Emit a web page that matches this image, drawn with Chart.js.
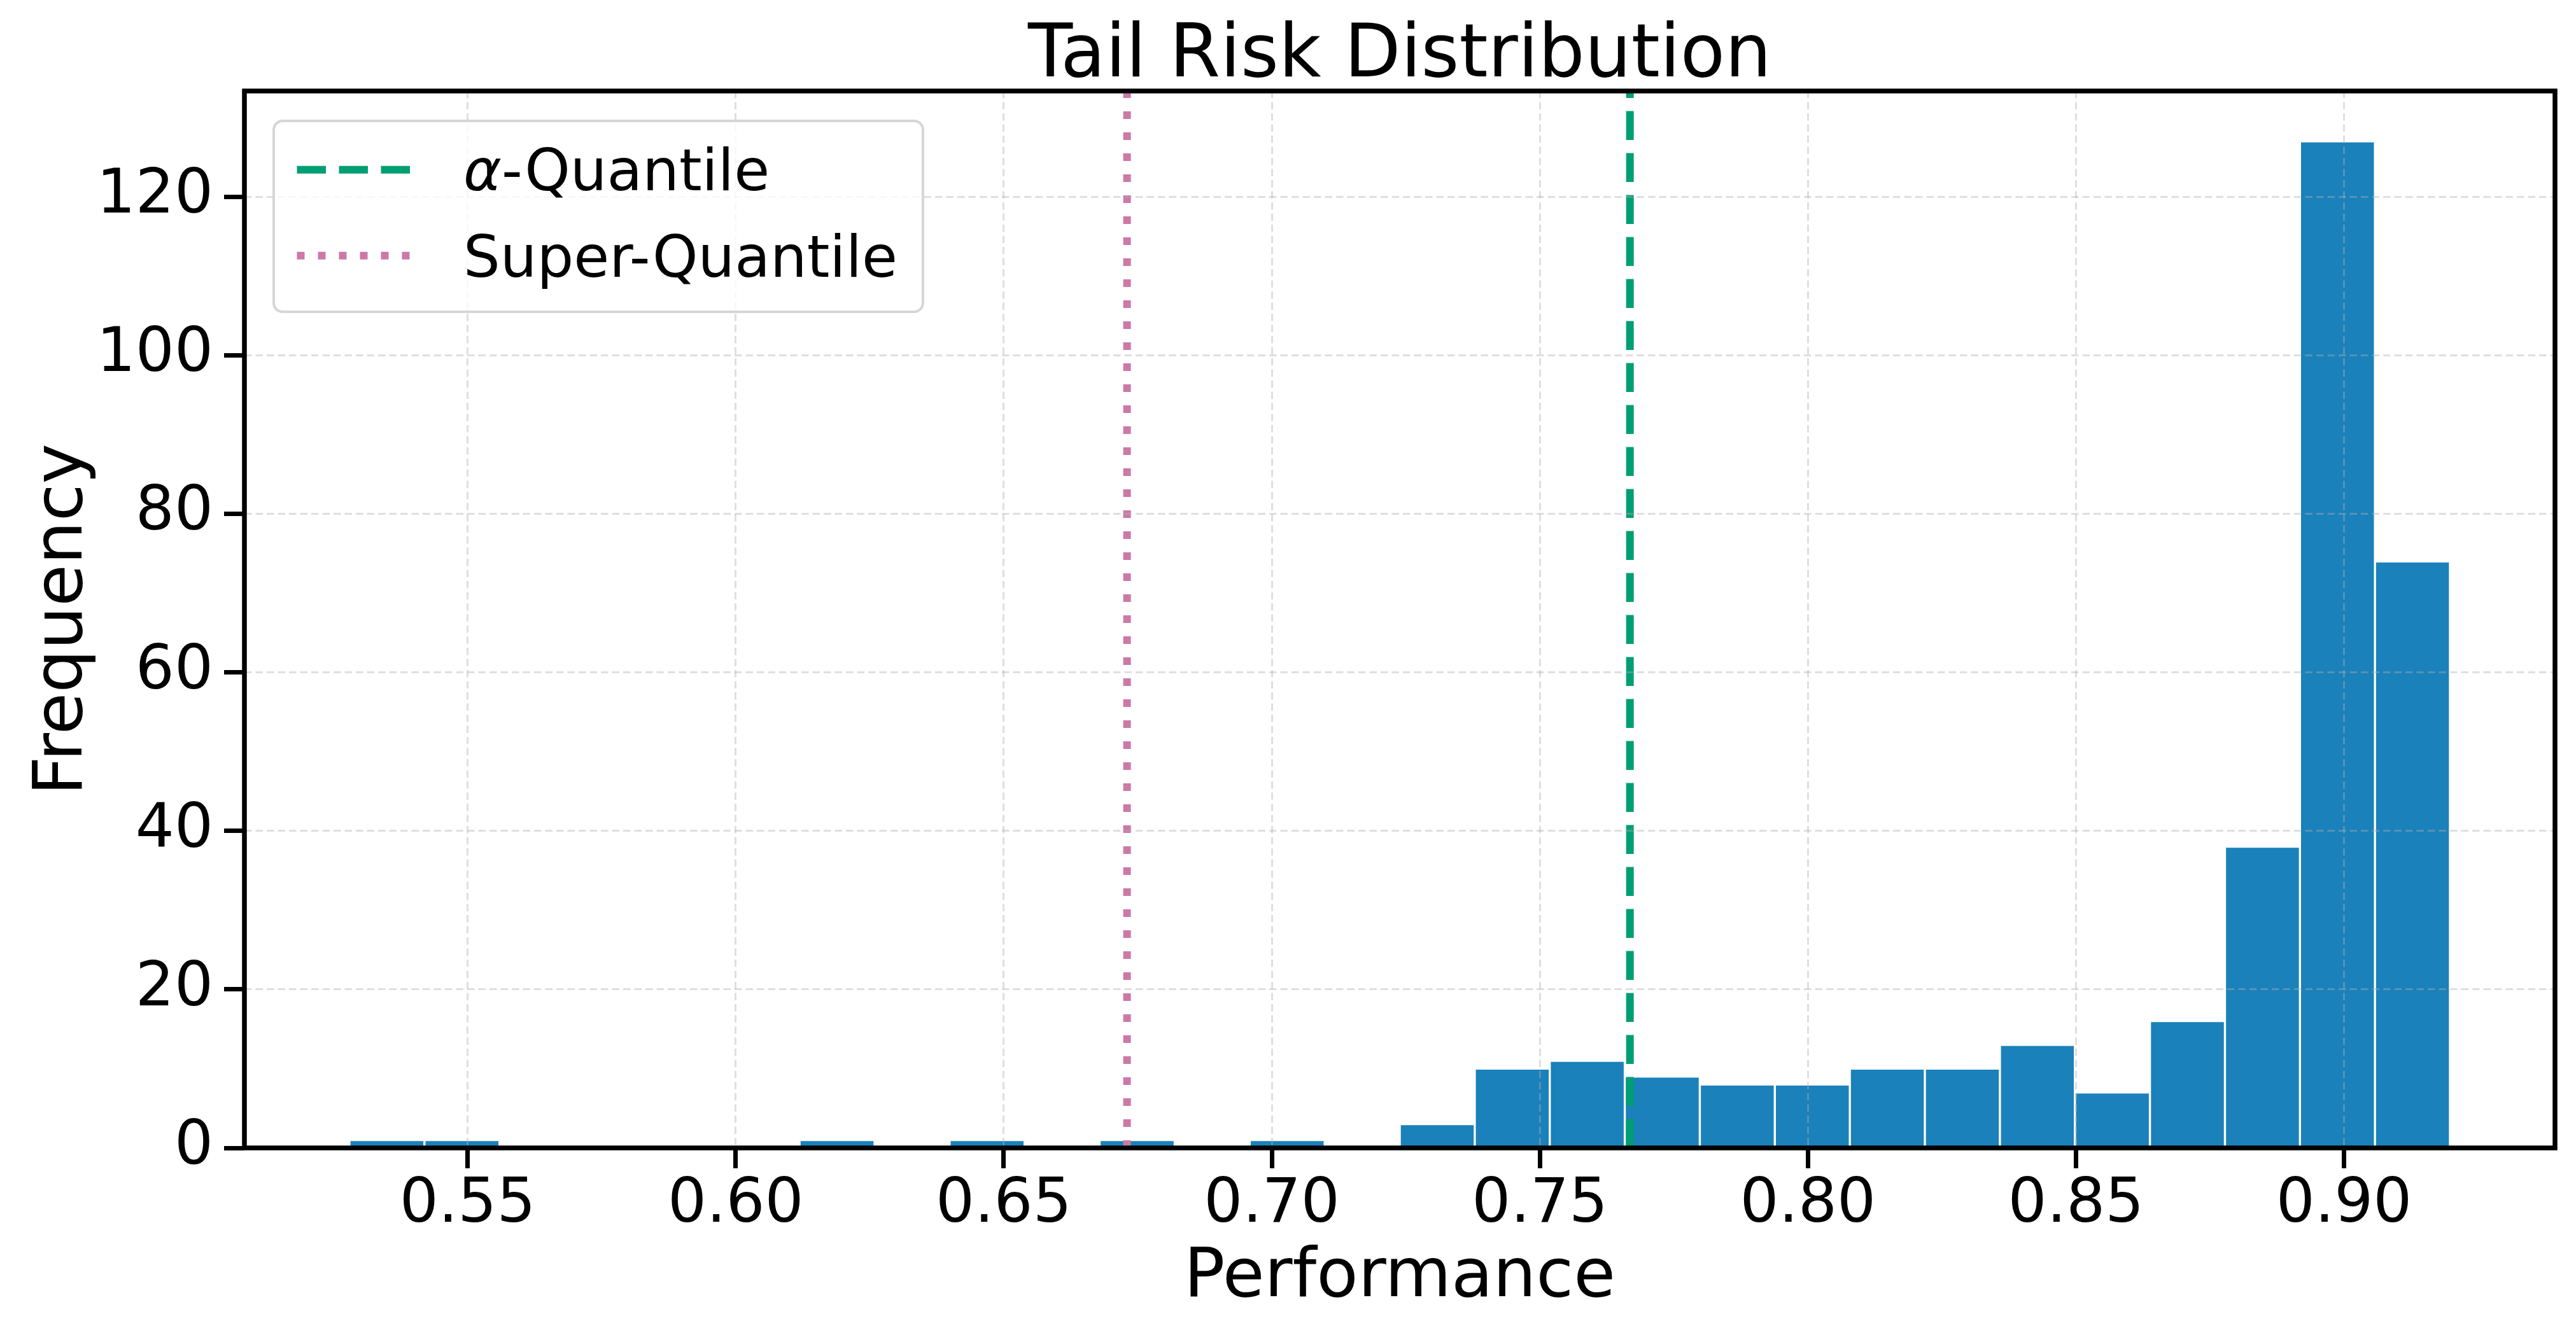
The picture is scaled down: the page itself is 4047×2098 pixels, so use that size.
<!DOCTYPE html>
<html>
<head>
<meta charset="utf-8">
<script src="https://cdn.jsdelivr.net/npm/chart.js@4.4.1/dist/chart.umd.min.js"></script>
<style>
  html, body { margin: 0; padding: 0; background: #ffffff; }
  #wrap { width: 4047px; height: 2098px; }
</style>
</head>
<body>
<div id="wrap"><canvas id="c" width="4047" height="2098" style="width:4047px;height:2098px"></canvas></div>
<script>
// ---------------- data ----------------
const binEdges = [0.52796, 0.54195, 0.55595, 0.56994, 0.58393, 0.59793, 0.61192, 0.62591,
                  0.63990, 0.65390, 0.66789, 0.68188, 0.69588, 0.70987, 0.72386, 0.73786,
                  0.75185, 0.76584, 0.77983, 0.79383, 0.80782, 0.82181, 0.83581, 0.84980,
                  0.86379, 0.87779, 0.89178, 0.90577, 0.91976];
const counts = [1, 1, 0, 0, 0, 0, 1, 0, 1, 0, 1, 0, 1, 0, 3, 10, 11, 9, 8, 8, 10, 10, 13, 7, 16, 38, 127, 74];
const alphaQuantile = 0.7668;
const superQuantile = 0.673;
const xTicks = [0.55, 0.60, 0.65, 0.70, 0.75, 0.80, 0.85, 0.90];
const yTicks = [0, 20, 40, 60, 80, 100, 120];
const xRange = [0.50837, 0.93935];
const yRange = [0, 133.35];
const titleText = 'Tail Risk Distribution';
const xLabel = 'Performance';
const yLabel = 'Frequency';
const seriesLabels = ['α-Quantile', 'Super-Quantile'];

// ---------------- styles ----------------
const FONT = '"DejaVu Sans", "Liberation Sans", sans-serif';
Chart.defaults.font.family = FONT;
Chart.defaults.color = '#000000';

const barData = counts.map((c, i) => ({ x: (binEdges[i] + binEdges[i + 1]) / 2, y: c }));
const vline = v => [{ x: v, y: yRange[0] }, { x: v, y: yRange[1] }];

const decor = {
  id: 'decor',
  afterDraw(chart) {
    const ctx = chart.ctx, ca = chart.chartArea;
    ctx.save();
    // spines
    ctx.setLineDash([]);
    ctx.strokeStyle = '#000000';
    ctx.lineWidth = 7.5;
    ctx.lineJoin = 'miter';
    ctx.strokeRect(ca.left, ca.top, ca.right - ca.left, ca.bottom - ca.top);

    // title
    ctx.fillStyle = '#000000';
    ctx.font = '115px ' + FONT;
    ctx.textAlign = 'center';
    ctx.textBaseline = 'alphabetic';
    ctx.fillText(titleText, (ca.left + ca.right) / 2, ca.top - 23);

    // legend
    const fs = 91;
    const normal = fs + 'px ' + FONT;
    const italic = 'italic ' + fs + 'px ' + FONT;
    const textX = ca.left + 344;
    const measure = (lab) => {
      if (lab.startsWith('α')) {
        ctx.font = italic; const a = ctx.measureText('α').width;
        ctx.font = normal; return a + ctx.measureText(lab.slice(1)).width;
      }
      ctx.font = normal; return ctx.measureText(lab).width;
    };
    const lineDs = chart.data.datasets.filter(d => d.type === 'line');
    let maxW = 0;
    lineDs.forEach(d => { maxW = Math.max(maxW, measure(d.label)); });
    const bL = ca.left + 46, bT = ca.top + 47, bB = ca.top + 347;
    const bR = textX + maxW + 40;
    const r = 14;
    ctx.beginPath();
    ctx.moveTo(bL + r, bT);
    ctx.lineTo(bR - r, bT); ctx.arcTo(bR, bT, bR, bT + r, r);
    ctx.lineTo(bR, bB - r); ctx.arcTo(bR, bB, bR - r, bB, r);
    ctx.lineTo(bL + r, bB); ctx.arcTo(bL, bB, bL, bB - r, r);
    ctx.lineTo(bL, bT + r); ctx.arcTo(bL, bT, bL + r, bT, r);
    ctx.closePath();
    ctx.fillStyle = 'rgba(255,255,255,0.8)';
    ctx.fill();
    ctx.lineWidth = 4;
    ctx.strokeStyle = 'rgba(204,204,204,0.8)';
    ctx.stroke();

    const rows = [{ ly: ca.top + 123.7, by: ca.top + 156 }, { ly: ca.top + 258.7, by: ca.top + 292 }];
    lineDs.forEach((d, i) => {
      const row = rows[i];
      ctx.beginPath();
      ctx.setLineDash(d.borderDash || []);
      ctx.lineDashOffset = 0;
      ctx.lineCap = 'butt';
      ctx.strokeStyle = d.borderColor;
      ctx.lineWidth = d.borderWidth;
      ctx.moveTo(ca.left + 82.5, row.ly);
      ctx.lineTo(ca.left + 261.5, row.ly);
      ctx.stroke();
      ctx.setLineDash([]);
      ctx.fillStyle = '#000000';
      ctx.textAlign = 'left';
      ctx.textBaseline = 'alphabetic';
      let x = textX;
      let lab = d.label;
      if (lab.startsWith('α')) {
        ctx.font = italic;
        ctx.fillText('α', x, row.by);
        x += ctx.measureText('α').width;
        lab = lab.slice(1);
      }
      ctx.font = normal;
      ctx.fillText(lab, x, row.by);
    });
    ctx.restore();
  }
};

const gridCommon = {
  color: 'rgba(176,176,176,0.4)',
  lineWidth: 3,
  z: 1,
  drawTicks: true,
  tickLength: 32,
  tickWidth: 7,
  tickColor: '#000000',
  tickBorderDash: [],
  offset: false
};

new Chart(document.getElementById('c'), {
  type: 'bar',
  data: {
    datasets: [
      {
        type: 'line',
        label: seriesLabels[0],
        data: vline(alphaQuantile),
        borderColor: '#009E73',
        borderWidth: 12,
        borderDash: [45.5, 20.5],
        borderCapStyle: 'butt',
        pointRadius: 0,
        fill: false,
        tension: 0,
        order: 0
      },
      {
        type: 'line',
        label: seriesLabels[1],
        data: vline(superQuantile),
        borderColor: '#CC79A7',
        borderWidth: 12,
        borderDash: [12, 21],
        borderCapStyle: 'butt',
        pointRadius: 0,
        fill: false,
        tension: 0,
        order: 1
      },
      {
        type: 'bar',
        label: 'Histogram',
        data: barData,
        backgroundColor: 'rgba(1,115,178,0.9)',
        borderColor: '#ffffff',
        borderWidth: 2,
        borderSkipped: 'start',
        barPercentage: 1,
        categoryPercentage: 1,
        order: 2
      }
    ]
  },
  options: {
    responsive: false,
    animation: false,
    devicePixelRatio: 1,
    layout: { padding: { top: 143, right: 33, left: 0, bottom: 0 } },
    plugins: {
      legend: { display: false },
      title: { display: false },
      tooltip: { enabled: false }
    },
    scales: {
      x: {
        type: 'linear',
        min: xRange[0],
        max: xRange[1],
        offset: false,
        grid: gridCommon,
        border: { display: false, dash: [11.5, 6] },
        afterBuildTicks: s => { s.ticks = xTicks.map(v => ({ value: v })); },
        afterFit: s => { s.height = 294; },
        ticks: {
          autoSkip: false,
          maxRotation: 0,
          minRotation: 0,
          padding: 1,
          color: '#000000',
          font: { size: 96 },
          callback: v => Number(v).toFixed(2)
        },
        title: {
          display: true,
          text: xLabel,
          color: '#000000',
          font: { size: 107 },
          padding: { top: 0, bottom: 25 }
        }
      },
      y: {
        type: 'linear',
        min: yRange[0],
        max: yRange[1],
        grid: gridCommon,
        border: { display: false, dash: [11.5, 6] },
        afterBuildTicks: s => { s.ticks = yTicks.map(v => ({ value: v })); },
        afterFit: s => { s.width = 384; },
        ticks: {
          autoSkip: false,
          padding: 17,
          color: '#000000',
          font: { size: 96 },
          callback: v => String(v)
        },
        title: {
          display: true,
          text: yLabel,
          color: '#000000',
          font: { size: 107 },
          padding: { top: 36, bottom: 0 }
        }
      }
    }
  },
  plugins: [decor]
});
</script>
</body>
</html>
